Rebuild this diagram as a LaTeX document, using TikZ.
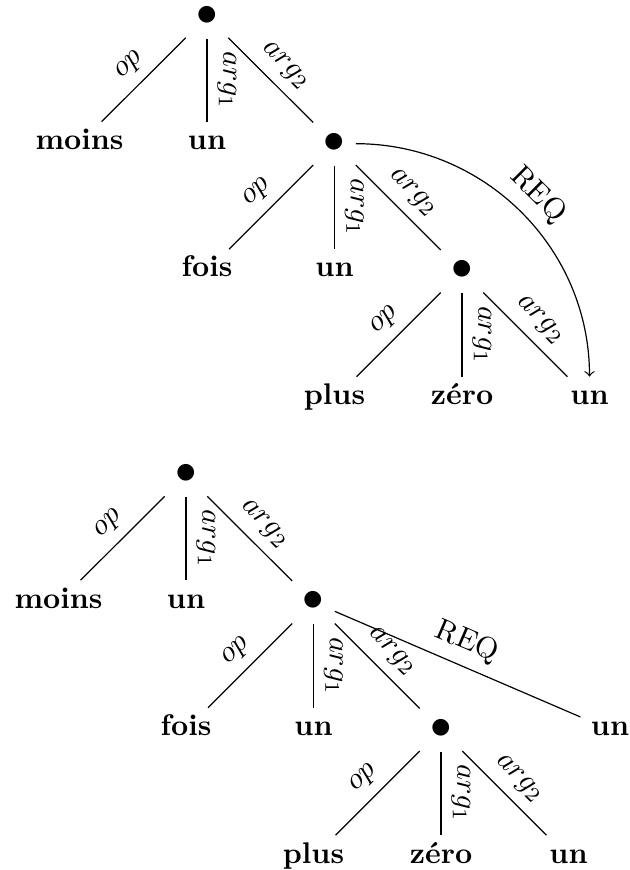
\documentclass[tikz,border=0pt]{standalone}
\usepackage{fontspec}
\newcommand{\bigdot}{\raisebox{-0.875pt}{\fontsize{13.5pt}{13.5pt}\selectfont$\bullet$}}
\begin{document}
\begin{tikzpicture}[x=0.3348pt,y=-0.3348pt,
  word/.style={font=\bfseries, anchor=base, inner sep=3.33pt, text height=5.8pt, text depth=1.9pt},
  dotnode/.style={anchor=base, inner sep=3.33pt, text height=5.8pt, text depth=1.9pt},
  lab/.style={midway, sloped, above},
  edge/.style={draw, line width=0.4pt}]
\useasboundingbox (0,0) rectangle (629,870);
% ---------- top tree ----------
\node[dotnode] (a) at (207,22.5) {\bigdot};
\node[word] (a1) at (79.5,149.5) {moins};
\node[word] (a2) at (207,149.5) {un};
\node[dotnode] (a3) at (334.5,149.5) {\bigdot};
\node[word] (a31) at (207,277) {fois};
\node[word] (a32) at (334.5,277) {un};
\node[dotnode] (a33) at (462,277) {\bigdot};
\node[word] (a331) at (334.5,404.5) {plus};
\node[word] (a332) at (462,404.5) {zéro};
\node[word] (a333) at (589.5,404.5) {un};
\path[edge] (a) -- node[lab] {$op$} (a1);
\path[edge] (a) -- node[lab] {$arg_1$} (a2);
\path[edge] (a) -- node[lab] {$arg_2$} (a3);
\path[edge] (a3) -- node[lab] {$op$} (a31);
\path[edge] (a3) -- node[lab] {$arg_1$} (a32);
\path[edge] (a3) -- node[lab] {$arg_2$} (a33);
\path[edge] (a33) -- node[lab] {$op$} (a331);
\path[edge] (a33) -- node[lab] {$arg_1$} (a332);
\path[edge] (a33) -- node[lab] {$arg_2$} (a333);
\path[edge,->] (a3) to[out=0,in=90] node[lab] {REQ} (a333);
% ---------- bottom tree ----------
\node[dotnode] (b) at (186,481) {\bigdot};
\node[word] (b1) at (58.5,608) {moins};
\node[word] (b2) at (186,608) {un};
\node[dotnode] (b3) at (313.5,608) {\bigdot};
\node[word] (b31) at (186,735.5) {fois};
\node[word] (b32) at (313.5,735.5) {un};
\node[dotnode] (b33) at (441,735.5) {\bigdot};
\node[word] (b34) at (610,735.5) {un};
\node[word] (b331) at (313.5,863) {plus};
\node[word] (b332) at (441,863) {zéro};
\node[word] (b333) at (568.5,863) {un};
\path[edge] (b) -- node[lab] {$op$} (b1);
\path[edge] (b) -- node[lab] {$arg_1$} (b2);
\path[edge] (b) -- node[lab] {$arg_2$} (b3);
\path[edge] (b3) -- node[lab] {$op$} (b31);
\path[edge] (b3) -- node[lab] {$arg_1$} (b32);
\path[edge] (b3) -- node[lab] {$arg_2$} (b33);
\path[edge] (b3) -- node[lab] {REQ} (b34);
\path[edge] (b33) -- node[lab] {$op$} (b331);
\path[edge] (b33) -- node[lab] {$arg_1$} (b332);
\path[edge] (b33) -- node[lab] {$arg_2$} (b333);
\end{tikzpicture}
\end{document}
